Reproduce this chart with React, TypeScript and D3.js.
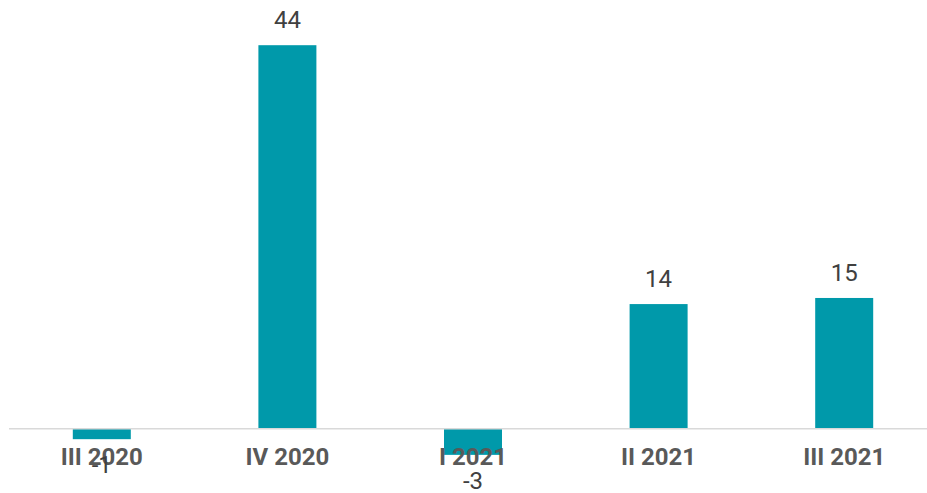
import React from "react";
import * as d3 from "d3";

const categories = ["III 2020", "IV 2020", "I 2021", "II 2021", "III 2021"];
const values = [-1.2, 44, -3, 14.3, 15];

const W = 927;
const H = 493;
const COLOR = "#0099AA";

export default function App() {
  const x = d3.scaleBand<string>().domain(categories).range([9, 937]).paddingInner(0.6875).paddingOuter(0.34375);
  const y = d3.scaleLinear().domain([-5, 50]).range([472.3, -7.1]);
  const fmt = d3.formatLocale({ decimal: ".", thousands: ",", grouping: [3], currency: ["", ""], minus: "-" }).format(".0f");
  const y0 = y(0);
  return (
    <svg width={W} height={H} style={{ position: "absolute", left: 0, top: 0, background: "#fff" }} fontFamily="Roboto, sans-serif">
      {values.map((v, i) => {
        const cx = (x(categories[i]) as number) + x.bandwidth() / 2;
        const top = Math.min(y(v), y0);
        const h = Math.abs(y(v) - y0);
        return (
          <g key={i}>
            <rect x={x(categories[i])} y={top} width={x.bandwidth()} height={h} fill={COLOR} />
          </g>
        );
      })}
      <line x1={9} x2={927} y1={y0} y2={y0} stroke="#D9D9D9" strokeWidth={1.5} />
      {categories.map((c, i) => (
        <text
          key={c}
          x={(x(c) as number) + x.bandwidth() / 2}
          y={465}
          textAnchor="middle"
          fontSize={24}
          fontWeight="bold"
          fill="#595959"
        >
          {c}
        </text>
      ))}
      {values.map((v, i) => {
        const cx = (x(categories[i]) as number) + x.bandwidth() / 2;
        return (
          <text
            key={"l" + i}
            x={cx}
            y={v >= 0 ? y(v) - 17 : y(v) + 34}
            textAnchor="middle"
            fontSize={24}
            fill="#404040"
          >
            {fmt(v)}
          </text>
        );
      })}
    </svg>
  );
}
